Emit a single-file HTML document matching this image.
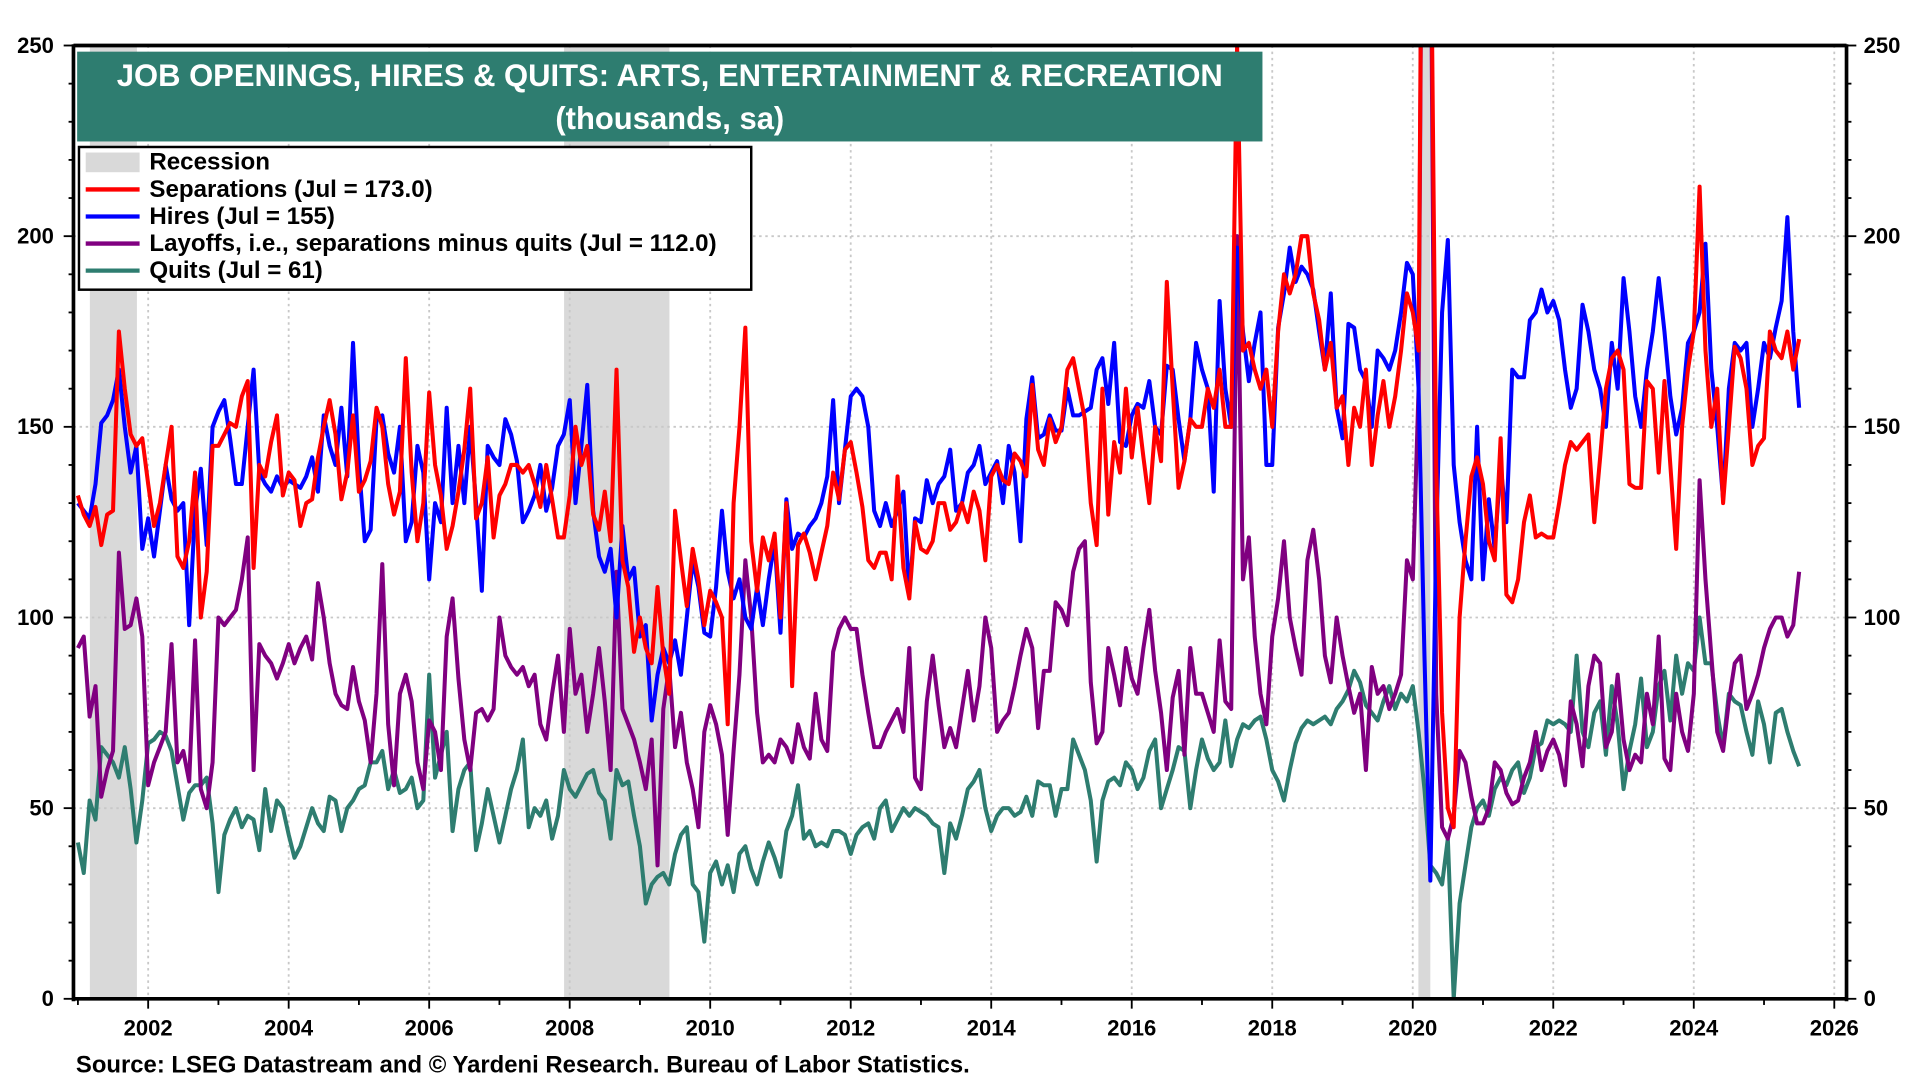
<!DOCTYPE html>
<html><head><meta charset="utf-8"><style>
html,body{margin:0;padding:0;background:#fff;}
svg{display:block;font-family:"Liberation Sans",Arial,sans-serif;font-weight:bold;}
</style></head><body>
<svg id="chart" width="1920" height="1080" viewBox="0 0 1568 878" preserveAspectRatio="none" xmlns="http://www.w3.org/2000/svg">
<defs><clipPath id="plotclip"><rect x="60" y="37" width="1448" height="775"/></clipPath></defs>
<g id="recessions" clip-path="url(#plotclip)"></g>
<g id="grid"></g>
<g id="series" clip-path="url(#plotclip)"></g>
<g id="axes"></g>
<g>
<rect x="63" y="42" width="968" height="73" fill="#2e7d70"/>
<text x="547" y="70" text-anchor="middle" fill="#fff" font-size="25.3">JOB OPENINGS, HIRES &amp; QUITS: ARTS, ENTERTAINMENT &amp; RECREATION</text>
<text x="547" y="105" text-anchor="middle" fill="#fff" font-size="25.3">(thousands, sa)</text>
</g>
<g>
<rect x="64.5" y="119.5" width="549" height="116" fill="#fff" stroke="#000" stroke-width="2"/>
<rect x="70" y="124" width="44" height="16" fill="#d9d9d9"/>
<text x="122" y="138" font-size="19.7">Recession</text>
<line x1="70" y1="154" x2="114" y2="154" stroke="#ff0000" stroke-width="3.5"/>
<text x="122" y="160" font-size="19.7">Separations (Jul = 173.0)</text>
<line x1="70" y1="176" x2="114" y2="176" stroke="#0000ff" stroke-width="3.5"/>
<text x="122" y="182" font-size="19.7">Hires (Jul = 155)</text>
<line x1="70" y1="198" x2="114" y2="198" stroke="#800080" stroke-width="3.5"/>
<text x="122" y="204" font-size="19.7">Layoffs, i.e., separations minus quits (Jul = 112.0)</text>
<line x1="70" y1="220" x2="114" y2="220" stroke="#2e7d70" stroke-width="3.5"/>
<text x="122" y="226" font-size="19.7">Quits (Jul = 61)</text>
</g>
<text x="62" y="872" font-size="19.5">Source: LSEG Datastream and © Yardeni Research. Bureau of Labor Statistics.</text>
</svg>
<script>
const startYear = 2001;
const yTicks = [0,50,100,150,200,250];
const xTickYears = [2002,2004,2006,2008,2010,2012,2014,2016,2018,2020,2022,2024,2026];
const recessionStarts = [2001.17, 2007.92, 2020.08];
const recessionEnds = [2001.84, 2009.42, 2020.25];
const hires = [
130,128,126,135,151,153,157,165,150,138,145,118,
126,116,128,140,131,128,130,98,128,139,119,150,
154,157,147,135,135,150,165,138,135,133,137,134,
136,135,134,137,142,133,153,145,140,155,137,172,
140,120,123,152,153,143,138,150,120,125,145,138,
110,130,125,155,130,145,130,150,130,107,145,142,
140,152,148,141,125,128,132,140,128,134,145,148,
157,130,145,161,128,116,112,118,100,124,110,113,
95,98,73,85,92,88,94,85,100,115,108,96,
95,108,128,112,105,110,100,97,108,98,110,120,
96,131,118,122,121,124,126,130,137,157,130,144,
158,160,158,150,128,124,130,124,128,133,106,126,
125,136,130,135,137,144,128,130,138,140,145,135,
138,141,130,145,138,120,152,163,147,148,153,149,
149,160,153,153,154,155,165,168,156,172,146,145,
153,156,155,162,150,148,166,165,152,141,152,172,
165,160,133,183,160,150,197,175,162,172,180,140,
140,176,185,197,188,192,190,186,175,165,185,155,
147,177,176,165,162,150,170,168,165,170,180,193,
190,160,90,31,120,180,199,140,125,115,110,150,
110,131,118,140,125,165,163,163,178,180,186,180,
183,178,165,155,160,182,175,165,160,150,172,160,
189,175,158,150,165,175,189,175,158,148,155,172,
175,180,198,165,150,131,160,172,170,172,150,160,
172,168,176,183,205,175,155];
const separations = [
132,127,124,129,119,127,128,175,160,148,145,147,
135,124,130,140,150,116,113,120,138,100,112,145,
145,148,151,150,158,162,113,140,137,146,153,132,
138,136,124,130,131,142,150,157,148,131,138,153,
133,136,141,155,150,135,127,133,168,138,120,130,
159,140,132,118,124,133,144,160,126,130,142,121,
132,135,140,140,138,140,135,129,140,131,121,121,
132,150,140,145,127,123,133,120,165,115,108,91,
100,92,88,108,90,80,128,115,103,118,110,98,
107,104,100,72,130,150,176,120,107,121,115,122,
100,130,82,119,122,117,110,117,124,138,131,144,
146,138,129,115,113,117,117,110,137,113,105,125,
118,117,120,130,130,123,125,130,125,133,128,115,
137,140,136,135,143,141,137,161,144,140,152,146,
150,165,168,160,152,130,119,160,127,146,138,160,
142,155,142,130,150,141,188,160,134,141,152,150,
150,160,155,165,150,150,250,170,172,165,160,165,
150,175,190,185,190,200,200,185,178,165,172,155,
158,140,155,150,165,140,153,162,150,158,170,185,
180,170,400,300,140,75,50,45,100,120,137,142,
135,120,115,147,106,104,110,125,132,121,122,121,
121,130,140,146,144,146,148,125,142,160,168,170,
165,135,134,134,162,160,138,162,140,118,150,165,
175,213,170,150,160,130,150,171,168,160,140,145,
147,175,170,168,175,165,173];
const layoffs = [
92,95,74,82,53,60,65,117,97,98,105,95,
56,62,66,70,93,62,65,57,94,55,50,62,
100,98,100,102,110,121,60,93,90,88,84,88,
93,88,92,95,89,109,100,88,80,77,76,87,
78,73,62,80,114,72,56,80,85,78,62,55,
73,70,60,95,105,84,68,60,75,76,73,76,
100,90,87,85,87,82,85,72,68,80,90,70,
97,80,85,70,80,92,78,60,112,76,72,68,
62,55,68,35,76,87,66,75,62,55,45,70,
77,72,64,43,65,85,115,100,75,62,64,62,
68,66,62,72,66,63,80,68,65,91,97,100,
97,97,85,75,66,66,70,73,76,70,92,58,
55,78,90,77,66,71,66,76,86,73,82,100,
92,70,73,75,82,90,97,92,71,86,86,104,
102,98,112,118,120,83,67,70,92,85,77,92,
84,80,92,102,86,75,60,79,86,64,92,80,
80,75,70,94,78,76,200,110,121,95,80,72,
95,105,120,100,92,85,115,123,110,90,83,100,
90,82,75,80,60,87,80,82,76,80,85,115,
110,160,400,300,80,45,42,48,65,62,53,46,
46,50,62,60,54,51,52,58,62,70,60,65,
68,64,56,78,72,61,82,90,88,66,70,85,
68,60,64,62,80,72,95,63,60,80,70,65,
80,136,110,90,70,65,78,88,90,76,80,85,
92,97,100,100,95,98,112];
const quits = [
41,33,52,47,66,64,62,58,66,55,41,52,
67,68,70,69,65,56,47,54,56,56,58,46,
28,43,47,50,45,48,47,39,55,44,52,50,
43,37,40,45,50,46,44,53,52,44,50,52,
55,56,62,62,65,55,60,54,55,58,50,52,
85,58,64,70,44,55,60,62,39,46,55,48,
41,48,55,60,68,45,50,48,52,42,48,60,
55,53,56,59,60,54,52,42,60,56,57,48,
40,25,30,32,33,30,38,43,45,30,28,15,
33,36,30,35,28,38,40,34,30,36,41,37,
32,44,48,56,42,44,40,41,40,44,44,43,
38,43,45,46,42,50,52,44,47,50,48,50,
49,48,46,45,33,46,42,48,55,57,60,50,
44,48,50,50,48,49,53,48,57,56,56,48,
55,55,68,64,60,52,36,52,57,58,56,62,
60,55,58,65,68,50,55,60,66,65,50,60,
68,63,60,62,73,61,68,72,71,73,74,68,
60,57,52,60,67,71,73,72,73,74,72,76,
78,81,86,83,77,75,73,78,82,76,80,78,
82,70,55,35,33,30,42,0,25,35,45,50,
52,48,55,58,56,60,62,54,58,66,67,73,
72,73,72,70,90,70,66,75,78,64,82,72,
55,65,72,84,66,70,82,86,73,90,80,88,
86,100,88,88,75,66,80,78,77,70,64,78,
72,62,75,76,70,65,61];

const NS = "http://www.w3.org/2000/svg";
const PL = 60, PR = 1508, PT = 37, PB = 812;
function xScale(yr){ return 121 + (yr - 2002) * 57.375; }
function yScale(v){ return PB - v / 250 * (PB - PT); }
function mk(tag, attrs, parent){ const e = document.createElementNS(NS, tag); for (const k in attrs) e.setAttribute(k, attrs[k]); parent.appendChild(e); return e; }

const rg = document.getElementById('recessions');
for (let i = 0; i < recessionStarts.length; i++) {
  const r = mk('rect', {x: xScale(recessionStarts[i]), y: PT, width: xScale(recessionEnds[i]) - xScale(recessionStarts[i]), height: PB - PT, fill: '#d9d9d9'}, rg);
  
  
}
const gg = document.getElementById('grid');
yTicks.forEach(v => {
  if (v === 0 || v === 250) return;
  const l = mk('line', {x1: PL, x2: PR, y1: yScale(v), y2: yScale(v), stroke: '#c8c8c8', 'stroke-width': 1.5, 'stroke-dasharray': '2,3'}, gg);
  
  
});
xTickYears.forEach(y => {
  const l = mk('line', {x1: xScale(y), x2: xScale(y), y1: PT, y2: PB, stroke: '#c8c8c8', 'stroke-width': 1.5, 'stroke-dasharray': '2,3'}, gg);
  
  
});

const sg = document.getElementById('series');
function drawSeries(arr, color, name){
  let d = '';
  arr.forEach((v, i) => { const x = xScale(startYear + i / 12), y = yScale(v); d += (i ? 'L' : 'M') + x.toFixed(1) + ',' + y.toFixed(1); });
  const p = mk('path', {d: d, fill: 'none', stroke: color, 'stroke-width': 3.3, 'stroke-linejoin': 'round'}, sg);
  
  
}
drawSeries(quits, '#2e7d70', 'quits-line');
drawSeries(layoffs, '#800080', 'layoffs-line');
drawSeries(hires, '#0000ff', 'hires-line');
drawSeries(separations, '#ff0000', 'separations-line');

const ag = document.getElementById('axes');
mk('line', {x1: PL, x2: PL, y1: PT - 1, y2: PB + 2, stroke: '#000', 'stroke-width': 3}, ag);
mk('line', {x1: PR, x2: PR, y1: PT - 1, y2: PB + 2, stroke: '#000', 'stroke-width': 3}, ag);
mk('line', {x1: PL, x2: PR, y1: PT, y2: PT, stroke: '#000', 'stroke-width': 3}, ag);
mk('line', {x1: PL, x2: PR, y1: PB, y2: PB, stroke: '#000', 'stroke-width': 3}, ag);
for (let v = 0; v <= 250; v += 10) {
  const len = v % 50 === 0 ? 8 : 4;
  mk('line', {x1: PL - len, x2: PL, y1: yScale(v), y2: yScale(v), stroke: '#000', 'stroke-width': 1.5}, ag);
  mk('line', {x1: PR, x2: PR + len, y1: yScale(v), y2: yScale(v), stroke: '#000', 'stroke-width': 1.5}, ag);
}
yTicks.forEach(v => {
  const t1 = mk('text', {x: 44, y: yScale(v) + 6, 'text-anchor': 'end', 'font-size': 18}, ag);
  t1.textContent = v;
  
  
  const t2 = mk('text', {x: 1522, y: yScale(v) + 6, 'text-anchor': 'start', 'font-size': 18}, ag);
  t2.textContent = v;
  
  
});
for (let y = 2001; y <= 2026; y++) {
  mk('line', {x1: xScale(y), x2: xScale(y), y1: PB, y2: PB + (y % 2 === 0 ? 8 : 5), stroke: '#000', 'stroke-width': 1.5}, ag);
}
xTickYears.forEach(y => {
  const t = mk('text', {x: xScale(y), y: 842, 'text-anchor': 'middle', 'font-size': 18}, ag);
  t.textContent = y;
  
  
});
</script>
</body></html>
